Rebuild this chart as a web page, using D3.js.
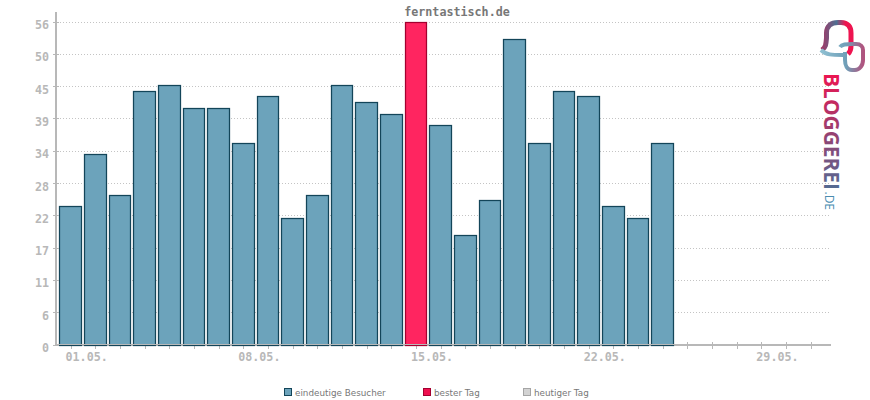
<!DOCTYPE html>
<html>
<head>
<meta charset="utf-8">
<script src="https://cdn.jsdelivr.net/npm/d3@7"></script>
<style>
  html, body { margin: 0; padding: 0; background: #fff; }
  svg { display: block; }
  text { font-family: "DejaVu Sans Mono", monospace; }
</style>
</head>
<body>
<div id="chart"></div>
<script>
// Data
const visitors = [24, 33, 26, 44, 45, 41, 41, 35, 43, 22, 26, 45, 42, 40, 56, 38, 19, 25, 53, 35, 44, 43, 24, 22, 35];
const days = d3.range(1, 32);
const yTicks = [0, 5.6, 11.2, 16.8, 22.4, 28, 33.6, 39.2, 44.8, 50.4, 56];
const labelledDays = [1, 8, 15, 22, 29];
const legendItems = ["eindeutige Besucher", "bester Tag", "heutiger Tag"];
const legendFill = ["#6ca3bb", "#ef0f4f", "#d3d3d3"];
const legendStroke = ["#134559", "#a3002f", "#a5a5a5"];

const width = 870, height = 400;
const axisColor = "#b8b8b8";

const svg = d3.select("#chart").append("svg")
    .attr("width", width)
    .attr("height", height);

const xScale = d3.scaleBand()
    .domain(days)
    .range([58.2, 823])
    .paddingInner(0.08)
    .paddingOuter(0.04);

const yScale = d3.scaleLinear()
    .domain([0, 56])
    .range([345, 22]);

// snap to the pixel row/column so lines stay crisp
const yPx = v => Math.floor(yScale(v)) + 0.5;
const xLeft = d => Math.round(xScale(d)) + 0.5;
const xRight = d => Math.round(xScale(d) + xScale.bandwidth()) - 0.5;
const xMid = d => Math.round(xScale(d) + xScale.bandwidth() / 2) + 0.5;

// Grid
svg.append("g")
    .selectAll("line")
    .data(yTicks.filter(d => d > 0))
    .enter().append("line")
    .attr("x1", 57)
    .attr("x2", 830)
    .attr("y1", yPx)
    .attr("y2", yPx)
    .attr("stroke", "#c4c4c4")
    .attr("stroke-dasharray", "1 2");

// X ticks sit under the bars
const xAxis = svg.append("g");
xAxis.selectAll("line")
    .data(days)
    .enter().append("line")
    .attr("x1", xMid)
    .attr("x2", xMid)
    .attr("y1", 342)
    .attr("y2", 349)
    .attr("stroke", axisColor);

// Bars
const best = d3.max(visitors);
const barColor = d => d === best ? "#ff2560" : "#6ca3bb";
const barEdge = d => d === best ? "#a3002f" : "#134559";
svg.append("g")
    .selectAll("rect")
    .data(visitors)
    .enter().append("rect")
    .attr("x", (d, i) => xLeft(days[i]))
    .attr("y", yPx)
    .attr("width", (d, i) => xRight(days[i]) - xLeft(days[i]))
    .attr("height", d => 345.5 - yPx(d))
    .attr("fill", barColor)
    .attr("stroke", barEdge)
    .attr("stroke-width", 1.25);

// Axis line runs over the bars, only the bars' bottom edge stays on top
svg.append("rect")
    .attr("x", 55).attr("y", 344)
    .attr("width", 776).attr("height", 2)
    .attr("fill", axisColor);
svg.append("g")
    .selectAll("line")
    .data(visitors)
    .enter().append("line")
    .attr("x1", (d, i) => xLeft(days[i]) - 0.6)
    .attr("x2", (d, i) => xRight(days[i]) + 0.6)
    .attr("y1", 345.5)
    .attr("y2", 345.5)
    .attr("stroke", barEdge);

xAxis.selectAll("text")
    .data(labelledDays)
    .enter().append("text")
    .attr("x", d => xScale(d) + xScale.bandwidth() / 2 - 5)
    .attr("y", 361)
    .attr("font-size", 11.7)
    .attr("font-weight", "bold")
    .attr("fill", axisColor)
    .text(d => String(d).padStart(2, "0") + ".05.");

// Y axis
const yAxis = svg.append("g");
yAxis.append("rect")
    .attr("x", 55).attr("y", 12)
    .attr("width", 2).attr("height", 334)
    .attr("fill", axisColor);
yAxis.selectAll("line")
    .data(yTicks)
    .enter().append("line")
    .attr("x1", 53)
    .attr("x2", 59)
    .attr("y1", yPx)
    .attr("y2", yPx)
    .attr("stroke", axisColor);
yAxis.selectAll("text")
    .data(yTicks)
    .enter().append("text")
    .attr("x", 49)
    .attr("y", d => yScale(d) + 7)
    .attr("text-anchor", "end")
    .attr("font-size", 11.7)
    .attr("font-weight", "bold")
    .attr("fill", axisColor)
    .text(d => Math.round(d));

// Title
svg.append("text")
    .attr("x", 457)
    .attr("y", 16)
    .attr("text-anchor", "middle")
    .attr("font-size", 11.7)
    .attr("font-weight", "bold")
    .attr("fill", "#777")
    .text("ferntastisch.de");

// Legend
const legendX = [284, 423, 523];
const legend = svg.append("g")
    .selectAll("g")
    .data(legendItems)
    .enter().append("g")
    .attr("transform", (d, i) => `translate(${legendX[i]},388)`);
legend.append("rect")
    .attr("x", 0.5).attr("y", 0.5)
    .attr("width", 7).attr("height", 7)
    .attr("fill", (d, i) => legendFill[i])
    .attr("stroke", (d, i) => legendStroke[i]);
legend.append("text")
    .attr("x", 11)
    .attr("y", 7.5)
    .attr("font-size", 8.8)
    .attr("fill", "#777")
    .style("font-family", "'DejaVu Sans', sans-serif")
    .text(d => d);

// Bloggerei logo
const defs = svg.append("defs");
const textGrad = defs.append("linearGradient")
    .attr("id", "logoText")
    .attr("gradientUnits", "userSpaceOnUse")
    .attr("x1", 0).attr("y1", 0).attr("x2", 120).attr("y2", 0);
textGrad.append("stop").attr("offset", 0).attr("stop-color", "#ee1450");
textGrad.append("stop").attr("offset", 0.55).attr("stop-color", "#8f4574");
textGrad.append("stop").attr("offset", 1).attr("stop-color", "#4f6f96");

const ringA = defs.append("linearGradient")
    .attr("id", "logoRingA").attr("x1", 0).attr("y1", 0).attr("x2", 1).attr("y2", 0);
ringA.append("stop").attr("offset", 0).attr("stop-color", "#a03a68");
ringA.append("stop").attr("offset", 0.5).attr("stop-color", "#4d6f92");
ringA.append("stop").attr("offset", 0.8).attr("stop-color", "#ee1450");

const ringB = defs.append("linearGradient")
    .attr("id", "logoRingB").attr("x1", 0).attr("y1", 0).attr("x2", 1).attr("y2", 0);
ringB.append("stop").attr("offset", 0).attr("stop-color", "#8fc0d2");
ringB.append("stop").attr("offset", 0.6).attr("stop-color", "#6f9fb8");
ringB.append("stop").attr("offset", 1).attr("stop-color", "#b0537e");

const logo = svg.append("g");
logo.append("path")
    .attr("d", "M822 50 C826 47 826 44 826.5 38 L826.5 33 C826.5 26 831 22.5 838 22.5 L841 22.5 C848 22.5 851 27 851 33 L851 46 C851 50 850 52 848 54")
    .attr("fill", "none").attr("stroke", "url(#logoRingA)").attr("stroke-width", 5);
logo.append("path")
    .attr("d", "M821 50 C826 55 832 55 843 55 M840 47 C842 44 846 44 852 44 L856 44 C861 44 863 47 863 50 L863 60 C863 66 859 70 855 70 L852 70 C847 70 845 65 845 60 L845 52")
    .attr("fill", "none").attr("stroke", "url(#logoRingB)").attr("stroke-width", 4);
logo.append("text")
    .attr("transform", "translate(824,73) rotate(90)")
    .attr("font-size", 22)
    .attr("font-weight", 700)
    .attr("textLength", 117)
    .attr("lengthAdjust", "spacingAndGlyphs")
    .attr("fill", "url(#logoText)")
    .style("font-family", "'Open Sans', sans-serif")
    .text("BLOGGEREI");
logo.append("text")
    .attr("transform", "translate(824.5,191.5) rotate(90)")
    .attr("font-size", 12)
    .attr("fill", "#4a8cb0")
    .style("font-family", "'Open Sans', sans-serif")
    .text(".DE");
</script>
</body>
</html>
